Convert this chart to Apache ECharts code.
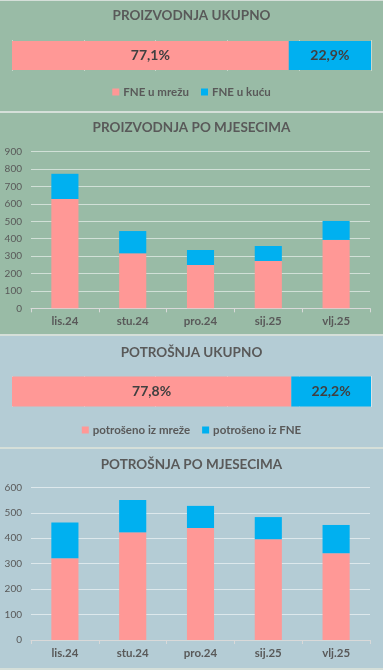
<!DOCTYPE html>
<html><head><meta charset="utf-8">
<script src="https://cdn.jsdelivr.net/npm/echarts@6/dist/echarts.min.js"></script>
<style>html,body{margin:0;padding:0;background:#d5dfd9;}#c{width:383px;height:670px;}</style>
</head><body><div id="c"></div>
<script>
const months = ['lis.24','stu.24','pro.24','sij.25','vlj.25'];
const prodGrid = [628,316,249,272,393];
const prodHome = [145,128,86,86,109];
const consGrid = [321,423,440,396,341];
const consFne = [141,127,87,87,111];
const prodShare = [77.1, 22.9];
const consShare = [77.8, 22.2];
const prodNames = ['FNE u mrežu','FNE u kuću'];
const consNames = ['potrošeno iz mreže','potrošeno iz FNE'];
const titles = ['PROIZVODNJA UKUPNO','PROIZVODNJA PO MJESECIMA','POTROŠNJA UKUPNO','POTROŠNJA PO MJESECIMA'];
const prodTicks = {max:900, interval:100};
const consTicks = {max:600, interval:100};

const PINK='#ff9896', BLUE='#00b0f0', TXT='#595959', FONT='Lato';
const GREEN='#99bba6', SLATE='#b4ccd5';
const chart = echarts.init(document.getElementById('c'), null, {renderer:'canvas'});

function pctLabel(){return {show:true,position:'inside',color:'#404040',fontWeight:'bold',fontSize:14,fontFamily:FONT,
  formatter:p=>p.value.toFixed(1).replace('.',',')+'%'};}
function titleObj(text, cy){return {text, left:'center', top:cy-8, padding:0,
  textStyle:{color:TXT,fontSize:13.5,fontWeight:'bold',fontFamily:FONT}};}
function legendObj(names, cy){return {data:names, top:cy-7, left:'center', icon:'rect', itemWidth:7, itemHeight:7, itemGap:12,
  selectedMode:false, padding:0, textStyle:{color:TXT,fontSize:11.5,fontWeight:'bold',fontFamily:FONT, padding:[0,0,0,-1]}};}
function pctGrid(top){return {left:12,right:12,top:top,height:31};}
function barGrid(top,bottom){return {left:31,right:13,top:top,height:bottom-top};}
function pctX(i){return {type:'value',gridIndex:i,min:0,max:100,interval:20,axisLabel:{show:false},axisLine:{show:false},axisTick:{show:false},
  splitLine:{lineStyle:{color:'rgba(255,255,255,0.45)',width:1}}};}
function pctY(i){return {type:'category',gridIndex:i,data:['x'],show:false};}
function catX(i){return {type:'category',gridIndex:i,data:months,axisLine:{lineStyle:{color:'#d9d9d9'}},
  axisTick:{show:true,length:4,lineStyle:{color:'#d9d9d9'}},
  axisLabel:{color:TXT,fontSize:11.5,fontWeight:'bold',fontFamily:FONT,margin:7}};}
function valY(i,t){return {type:'value',gridIndex:i,min:0,max:t.max,interval:t.interval,
  axisLabel:{color:TXT,fontSize:10,fontFamily:FONT,margin:9},axisLine:{show:false},axisTick:{show:false},
  splitLine:{lineStyle:{color:'rgba(255,255,255,0.55)',width:1}}};}

chart.setOption({
  animation:false,
  graphic:[
    {type:'rect',shape:{x:0,y:1,width:383,height:110},style:{fill:GREEN},z:-10},
    {type:'rect',shape:{x:0,y:113,width:383,height:221},style:{fill:GREEN},z:-10},
    {type:'rect',shape:{x:0,y:336,width:383,height:111},style:{fill:SLATE},z:-10},
    {type:'rect',shape:{x:0,y:449,width:383,height:219},style:{fill:SLATE},z:-10}
  ],
  title:[titleObj(titles[0],17),titleObj(titles[1],129),titleObj(titles[2],354),titleObj(titles[3],466)],
  legend:[legendObj(prodNames,93),legendObj(consNames,431)],
  grid:[pctGrid(40),barGrid(151.7,308.3),pctGrid(376),barGrid(487.3,640)],
  xAxis:[pctX(0),catX(1),pctX(2),catX(3)],
  yAxis:[pctY(0),valY(1,prodTicks),pctY(2),valY(3,consTicks)],
  series:[
    {name:prodNames[0],type:'bar',stack:'a',xAxisIndex:0,yAxisIndex:0,barWidth:29,data:[prodShare[0]],itemStyle:{color:PINK},label:pctLabel()},
    {name:prodNames[1],type:'bar',stack:'a',xAxisIndex:0,yAxisIndex:0,barWidth:29,data:[prodShare[1]],itemStyle:{color:BLUE},label:pctLabel()},
    {name:prodNames[0],type:'bar',stack:'b',xAxisIndex:1,yAxisIndex:1,barCategoryGap:'60%',data:prodGrid,itemStyle:{color:PINK}},
    {name:prodNames[1],type:'bar',stack:'b',xAxisIndex:1,yAxisIndex:1,barCategoryGap:'60%',data:prodHome,itemStyle:{color:BLUE}},
    {name:consNames[0],type:'bar',stack:'c',xAxisIndex:2,yAxisIndex:2,barWidth:30,data:[consShare[0]],itemStyle:{color:PINK},label:pctLabel()},
    {name:consNames[1],type:'bar',stack:'c',xAxisIndex:2,yAxisIndex:2,barWidth:30,data:[consShare[1]],itemStyle:{color:BLUE},label:pctLabel()},
    {name:consNames[0],type:'bar',stack:'d',xAxisIndex:3,yAxisIndex:3,barCategoryGap:'60%',data:consGrid,itemStyle:{color:PINK}},
    {name:consNames[1],type:'bar',stack:'d',xAxisIndex:3,yAxisIndex:3,barCategoryGap:'60%',data:consFne,itemStyle:{color:BLUE}}
  ]
});
</script></body></html>
